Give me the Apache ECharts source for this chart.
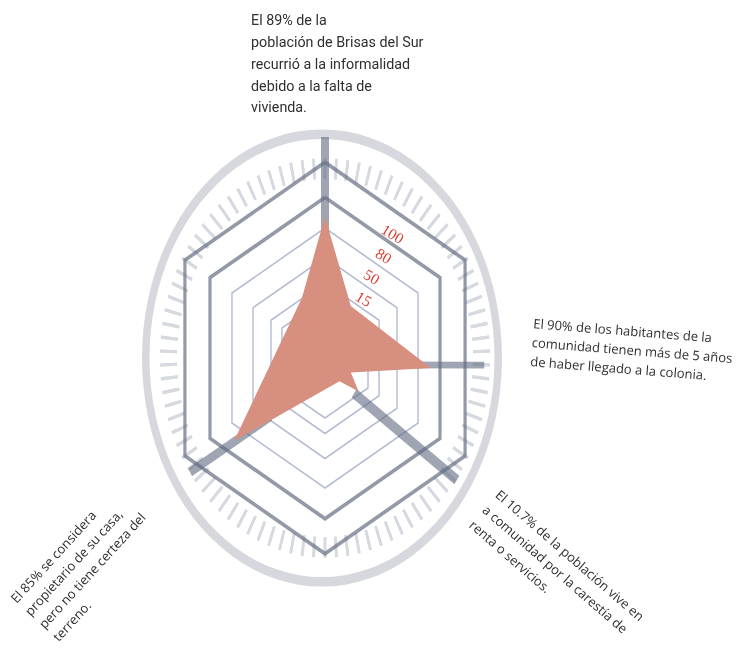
<!DOCTYPE html>
<html><head><meta charset="utf-8">
<script src="https://cdn.jsdelivr.net/npm/echarts@6.0.0/dist/echarts.min.js"></script>
<style>
html,body{margin:0;padding:0;background:#fff;}
.layer{position:absolute;left:0;top:0;width:739px;height:652px;}
#ring{transform-origin:322px 358px;transform:scaleY(1.27);}
#grid{transform-origin:325px 358px;transform:scaleY(1.21);}
</style></head>
<body>
<div id="ring" class="layer"></div>
<div id="grid" class="layer"></div>
<div id="text" class="layer"></div>
<script>
// ---------------- data ----------------
// hexagon levels, in radius units (the hexagon labelled "100" = 100)
const ringLevels = [37.4, 47, 62.6, 80.9, 100, 121.8];
const ringIsFrame = [false, false, false, false, true, true];
const ringTickLabels = ['15', '50', '80', '100'];
// red shape outline: radius (units) and angle (degrees, counter-clockwise from east)
const shapeRadius = [88, 37.7, 80, 21.5, 32.8, 18.2, 85.8, 41.2, 88];
const shapeAngle  = [90, 59, 355.5, 335, 320.5, 307, 217, 115, 90];
// four highlighted axes: inner / outer end, radius units and angle
const axisInnerRadius = [67, 34, 31, 55];
const axisInnerAngle  = [90, 352.7, 315, 221.6];
const axisOuterRadius = [137.5, 120, 125, 124];
const axisOuterAngle  = [90, 357.9, 322.6, 215];
const dialTickCount = 90;
// annotations
const noteTop = 'El 89% de la\npoblación de Brisas del Sur\nrecurrió a la informalidad\ndebido a la falta de\nvivienda.';
const noteRight = 'El 90% de los habitantes de la\ncomunidad tienen más de 5 años\nde haber llegado a la colonia.';
const noteLowerRight = 'El 10.7% de la población vive en\na comunidad por la carestía de\nrenta o servicios.';
const noteLowerLeft = 'El 85% se considera\npropietario de su casa,\npero no tiene certeza del\nterreno.';

// ---------------- layout / style ----------------
const cx = 325, cy = 358, pxPerUnit = 1.328;
const deg = Math.PI / 180;
const hidden = {show: false};

// outer light ring
const ringChart = echarts.init(document.getElementById('ring'), null, {renderer: 'svg'});
ringChart.setOption({
  animation: false,
  series: [{
    type: 'gauge', center: [322, 358], radius: 180, startAngle: 90, endAngle: -270,
    axisLine: {show: true, lineStyle: {width: 7.5, color: [[1, '#d6d8de']]}},
    axisTick: hidden, splitLine: hidden, axisLabel: hidden, pointer: hidden,
    anchor: hidden, title: hidden, detail: hidden, progress: hidden,
    data: [{value: 0}]
  }]
});

// hexagons, dial ticks, highlighted axes and the red shape
const gridChart = echarts.init(document.getElementById('grid'), null, {renderer: 'svg'});
const sixAxes = [0, 1, 2, 3, 4, 5].map(i => ({name: 'e' + i, max: 100}));
const spokeWidths = [8, 5.5, 8.5, 7.5];
gridChart.setOption({
  animation: false,
  radar: ringLevels.map((lv, i) => ({
    center: [cx, cy], radius: lv * pxPerUnit, startAngle: 90, shape: 'polygon', splitNumber: 1,
    indicator: sixAxes, axisName: hidden, axisLine: hidden, axisTick: hidden, axisLabel: hidden,
    splitArea: hidden, z: 2,
    splitLine: {lineStyle: ringIsFrame[i]
      ? {color: 'rgba(96,104,126,0.68)', width: 3.2}
      : {color: '#b4bbd3', width: 1.4}}
  })),
  polar: {center: [cx, cy], radius: 150 * pxPerUnit},
  angleAxis: {type: 'value', min: 0, max: 360, startAngle: 0, clockwise: false, show: false},
  radiusAxis: {type: 'value', min: 0, max: 150, show: false},
  series: [
    {
      type: 'gauge', z: 1, center: [cx, cy], radius: 165, startAngle: 90, endAngle: -270,
      min: 0, max: dialTickCount, splitNumber: dialTickCount,
      axisLine: {show: false, lineStyle: {width: 0}}, splitLine: hidden, axisLabel: hidden,
      axisTick: {show: true, splitNumber: 1, distance: 0, length: 17, lineStyle: {color: '#d6d9df', width: 2.6}},
      pointer: hidden, anchor: hidden, title: hidden, detail: hidden, progress: hidden,
      data: [{value: 0}]
    },
    ...axisInnerRadius.map((r, i) => ({
      type: 'line', coordinateSystem: 'polar', z: 3, symbol: 'none', silent: true,
      lineStyle: {color: 'rgba(100,110,132,0.62)', width: spokeWidths[i], cap: 'butt'},
      data: [[r, axisInnerAngle[i]], [axisOuterRadius[i], axisOuterAngle[i]]]
    })),
    {
      type: 'line', coordinateSystem: 'polar', z: 4, symbol: 'none', silent: true,
      lineStyle: {width: 0, opacity: 0},
      areaStyle: {color: '#d78f80', opacity: 1},
      data: shapeRadius.map((r, i) => [r, shapeAngle[i]])
    }
  ]
});

// texts
const textChart = echarts.init(document.getElementById('text'));
function note(text, x, y, rot, font, lh) {
  return {type: 'text', x: x, y: y, rotation: rot * deg, silent: true,
    style: {text: text, font: font, fill: '#2f2f2f', lineHeight: lh,
      align: 'left', verticalAlign: 'top', textAlign: 'left', textVerticalAlign: 'top'}};
}
const tickLabelPos = [[363, 300], [371, 278], [383, 257], [392, 235]];
textChart.setOption({
  graphic: [
    note(noteTop, 251, 11, 0, '14.3px Roboto', 21.7),
    note(noteRight, 534, 315, -4.5, '13px "Open Sans"', 19),
    note(noteLowerRight, 503.6, 486, -41, '13px "Open Sans"', 20),
    note(noteLowerLeft, 7, 595, 47.6, '13px "Open Sans"', 19),
    ...ringTickLabels.map((t, i) => ({
      type: 'text', x: tickLabelPos[i][0], y: tickLabelPos[i][1], rotation: -31 * deg, silent: true,
      style: {text: t, font: '15.5px "Liberation Serif"', fill: '#dc3f35',
        align: 'center', verticalAlign: 'middle', textAlign: 'center', textVerticalAlign: 'middle'}
    }))
  ]
});
</script>
</body></html>
